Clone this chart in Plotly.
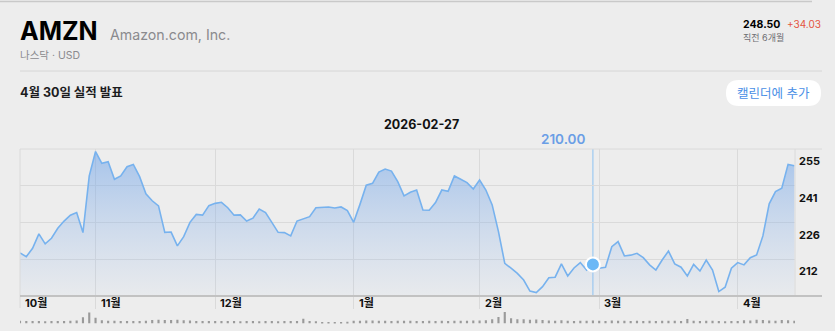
import pandas as pd
import plotly.graph_objects as go

# ---------------- data ----------------
holidays = ["2025-11-27", "2025-12-25", "2026-01-01", "2026-01-19", "2026-02-16", "2026-04-03"]
dates = [d.strftime("%Y-%m-%d") for d in pd.bdate_range("2025-10-16", "2026-04-15")
         if d.strftime("%Y-%m-%d") not in holidays]

prices = [214.47, 213.0, 216.3, 221.9, 218.0, 220.2, 224.1, 226.9, 229.2, 230.2,
          222.4, 244.5, 254.0, 249.4, 250.0, 243.2, 244.5, 248.1, 249.0, 244.2,
          237.5, 234.8, 232.8, 222.5, 222.6, 217.2, 220.8, 226.4, 229.5, 229.2,
          232.9, 233.8, 234.2, 232.1, 229.2, 229.3, 226.9, 228.0, 231.6, 230.2,
          226.4, 222.5, 222.4, 221.1, 226.9, 227.6, 228.6, 232.1, 232.3, 232.4,
          232.0, 232.4, 231.0, 226.4, 233.4, 240.9, 241.6, 246.0, 247.2, 246.4,
          242.3, 236.7, 238.1, 239.0, 231.2, 231.1, 234.1, 239.0, 238.5, 244.5,
          243.2, 241.9, 239.4, 242.9, 239.0, 233.2, 222.8, 210.4, 208.5, 206.5,
          203.9, 199.6, 199.0, 201.3, 204.8, 205.0, 210.2, 205.5, 208.6, 210.7,
          207.8, 210.0, 208.5, 208.9, 216.9, 218.9, 213.3, 213.6, 214.3, 212.6,
          209.8, 207.8, 211.7, 215.2, 210.2, 208.9, 205.5, 210.0, 207.4, 211.7,
          207.8, 199.4, 201.1, 208.5, 210.7, 209.8, 212.6, 213.7, 221.1, 233.6,
          238.4, 239.7, 249.0, 248.5]

volumes = [45, 40, 42, 44, 38, 41, 43, 40, 46, 52,
           105, 185, 95, 55, 48, 45, 44, 42, 40, 44,
           46, 58, 62, 60, 58, 62, 55, 50, 44, 40,
           42, 41, 43, 40, 42, 38, 40, 41, 39, 42,
           40, 38, 41, 40, 42, 80, 40, 38, 18, 20,
           22, 25, 30, 45, 48, 52, 50, 47, 45, 44,
           46, 48, 45, 43, 44, 46, 42, 45, 44, 47,
           45, 48, 50, 52, 55, 70, 110, 195, 90, 70,
           72, 65, 68, 60, 50, 48, 55, 46, 44, 47,
           45, 50, 46, 44, 52, 48, 45, 44, 46, 43,
           45, 44, 46, 48, 45, 44, 75, 45, 44, 46,
           47, 40, 38, 40, 42, 55, 50, 62, 58, 52,
           48, 60, 55, 45]

month_ticks = ["2025-10-16", "2025-11-03", "2025-12-01", "2026-01-02",
               "2026-02-02", "2026-03-02", "2026-04-01"]
month_labels = ["10월", "11월", "12월", "1월", "2월", "3월", "4월"]

y_tickvals = [255, 240.667, 226.333, 212]
y_ticktext = ["255", "241", "226", "212"]
y_range = [197.667, 255]

selected = "2026-02-27"
last_price = 248.50
change = 34.03

assert len(dates) == len(prices) == len(volumes)

# ---------------- geometry helpers (page pixels -> paper) ----------------
W, H = 835, 331
def px(x):
    return x / W
def py(y):
    return 1 - y / H

FONT = "Inter, Noto Sans CJK KR, sans-serif"
BG = "#ededed"
GRID = "#dadada"

fig = go.Figure()

fig.add_trace(go.Scatter(
    x=dates, y=prices, mode="lines",
    line=dict(color="#77b2ee", width=1.6),
    fill="tozeroy",
    fillgradient=dict(type="vertical", start=y_range[0], stop=y_range[1],
                      colorscale=[[0, "rgba(150,185,235,0.06)"],
                                  [1, "rgba(105,160,232,0.55)"]]),
    hoverinfo="skip", xaxis="x", yaxis="y", showlegend=False))

sel_idx = dates.index(selected)
fig.add_trace(go.Scatter(
    x=[dates[sel_idx]], y=[prices[sel_idx]], mode="markers",
    marker=dict(size=14, color="#6cb8f6", line=dict(color="white", width=2)),
    hoverinfo="skip", xaxis="x", yaxis="y", showlegend=False, cliponaxis=False))

fig.add_trace(go.Bar(
    x=dates, y=volumes, marker=dict(color="#9a9a9a", line=dict(width=0)),
    width=0.34, xaxis="x2", yaxis="y2", hoverinfo="skip", showlegend=False))

shapes = []
# top outline of search box
shapes.append(dict(type="line", xref="paper", yref="paper", x0=0, x1=px(812), y0=py(1.5), y1=py(1.5),
                   line=dict(color="#c9c9c9", width=1.5)))
# separator
shapes.append(dict(type="line", xref="paper", yref="paper", x0=px(20), x1=px(822), y0=py(71), y1=py(71),
                   line=dict(color="#d6d6d6", width=1)))
# button (rounded pill)
bx0, bx1, by0, by1, r = 726, 821, 80, 106, 13
def P(x, y):
    return f"{px(x):.5f},{py(y):.5f}"
path = (f"M {P(bx0 + r, by0)} L {P(bx1 - r, by0)} Q {P(bx1, by0)} {P(bx1, by0 + r)} "
        f"Q {P(bx1, by1)} {P(bx1 - r, by1)} L {P(bx0 + r, by1)} Q {P(bx0, by1)} {P(bx0, by1 - r)} "
        f"Q {P(bx0, by0)} {P(bx0 + r, by0)} Z")
shapes.append(dict(type="path", xref="paper", yref="paper", path=path,
                   fillcolor="white", line=dict(color="white", width=0)))
# plot frame pieces
shapes.append(dict(type="line", xref="paper", yref="paper", x0=px(20), x1=px(822), y0=py(149), y1=py(149),
                   line=dict(color=GRID, width=1)))
shapes.append(dict(type="line", xref="paper", yref="paper", x0=px(20), x1=px(20), y0=py(149), y1=py(308),
                   line=dict(color=GRID, width=1)))
shapes.append(dict(type="line", xref="paper", yref="paper", x0=px(795), x1=px(795), y0=py(149), y1=py(296),
                   line=dict(color=GRID, width=1)))
shapes.append(dict(type="line", xref="paper", yref="paper", x0=px(20), x1=px(822), y0=py(296), y1=py(296),
                   line=dict(color="#c2c2c2", width=2)))
# crosshair
shapes.append(dict(type="line", xref="x", yref="paper", x0=selected, x1=selected, y0=py(149), y1=py(296),
                   line=dict(color="#8cc2f2", width=1), layer="below"))

ann = []
def text(x, y, s, size, color, weight="normal", xanchor="left"):
    ann.append(dict(xref="paper", yref="paper", x=px(x), y=py(y), text=s, showarrow=False,
                    xanchor=xanchor, yanchor="middle", borderpad=0,
                    font=dict(family=FONT, size=size, color=color, weight=weight)))

text(19, 31, "AMZN", 25, "#000000", "bold")
text(109, 34.5, "Amazon.com, Inc.", 14.2, "#8a8a8e")
text(19, 55.5, "나스닥 · USD", 10.5, "#8a8a8e")
text(19, 92, "4월 30일 실적 발표", 12.5, "#1c1c1e", "bold")
text(773.5, 93, "캘린더에 추가", 12.5, "#4a8fe6", xanchor="center")
text(742, 24, f"{last_price:.2f}", 10.5, "#000000", "bold")
text(822, 24, f"+{change:.2f}", 10, "#e4543f", xanchor="right")
text(742, 37.5, "직전 6개월", 9, "#6e6e73")
text(421, 124.5, selected, 12.5, "#111111", "bold", xanchor="center")
text(563, 138.5, f"{prices[sel_idx]:.2f}", 13.5, "#6a9ee6", 600, xanchor="center")

for d, lab in zip(month_ticks, month_labels):
    ann.append(dict(xref="x", yref="paper", x=d, y=py(303), text=lab, showarrow=False,
                    xanchor="left", yanchor="middle", xshift=3,
                    font=dict(family=FONT, size=11, color="#111111", weight="bold")))

for v, t in zip(y_tickvals, y_ticktext):
    ann.append(dict(xref="paper", yref="y", x=px(795), y=v, text=t, showarrow=False,
                    xanchor="left", yanchor="top", xshift=2, yshift=-3,
                    font=dict(family=FONT, size=11, color="#111111", weight="bold")))

fig.update_layout(
    width=W, height=H, margin=dict(l=0, r=0, t=0, b=0),
    paper_bgcolor=BG, plot_bgcolor=BG,
    shapes=shapes, annotations=ann,
    hovermode=False,
    xaxis=dict(domain=[px(20), px(795)], type="category", range=[0, len(dates) - 1 + 0.1],
               tickvals=month_ticks[1:], showticklabels=False, showgrid=True, gridcolor=GRID,
               gridwidth=1, ticks="outside", ticklen=12, tickcolor=GRID, showline=False,
               zeroline=False, anchor="y", fixedrange=True),
    yaxis=dict(domain=[py(296), py(149)], range=y_range, tickvals=y_tickvals, showticklabels=False,
               showgrid=True, gridcolor=GRID, zeroline=False, showline=False, fixedrange=True),
    xaxis2=dict(domain=[px(20), px(795)], type="category", matches="x", anchor="y2",
                visible=False, fixedrange=True),
    yaxis2=dict(domain=[py(323.5), py(308)], range=[0, 260], visible=False, fixedrange=True),
)

fig.write_html("out.html")
